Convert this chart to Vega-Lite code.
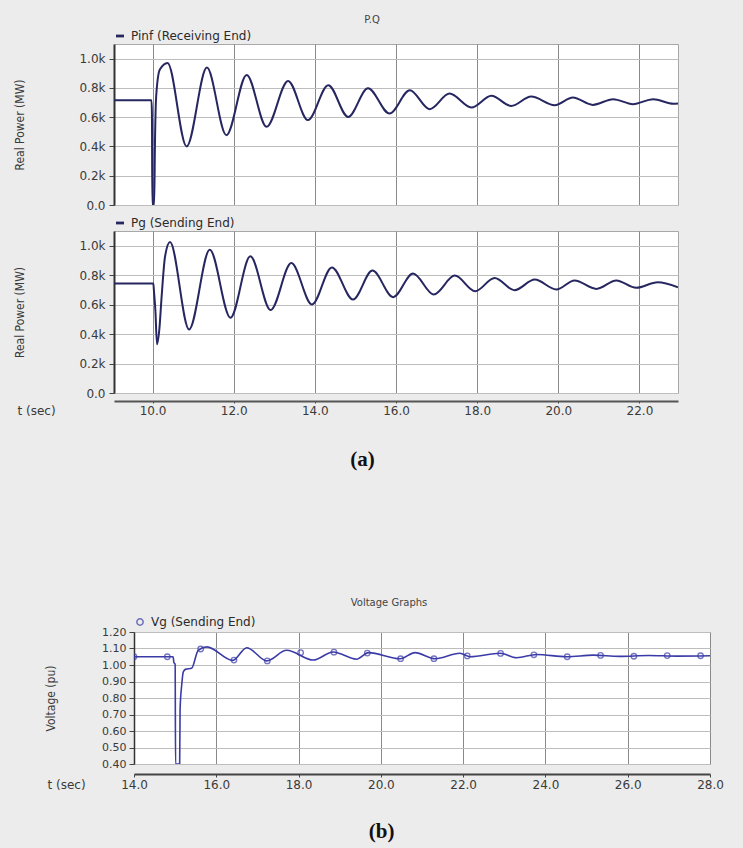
{
  "$schema": "https://vega.github.io/schema/vega-lite/v6.json",
  "autosize": {"type": "pad"},
  "padding": {"left": 12, "top": 14, "right": 20, "bottom": 10},
  "background": "#ececec",
  "bounds": "flush",
  "spacing": 588,
  "resolve": {"scale": {"color": "independent"}, "legend": {"color": "independent"}},
  "datasets": {
    "pinf": [
      {"t": 9.05, "p": 716}, {"t": 9.975, "p": 716}, {"t": 9.985, "p": 620}, {"t": 9.995, "p": 0},
      {"t": 10.04, "p": 0}, {"t": 10.06, "p": 430}, {"t": 10.09, "p": 745}, {"t": 10.18, "p": 925},
      {"t": 10.37, "p": 970}, {"t": 10.84, "p": 400}, {"t": 11.34, "p": 939}, {"t": 11.82, "p": 477},
      {"t": 12.32, "p": 889}, {"t": 12.81, "p": 534}, {"t": 13.34, "p": 848}, {"t": 13.83, "p": 580},
      {"t": 14.33, "p": 819}, {"t": 14.82, "p": 602}, {"t": 15.31, "p": 798}, {"t": 15.84, "p": 625},
      {"t": 16.34, "p": 784}, {"t": 16.83, "p": 655}, {"t": 17.32, "p": 761}, {"t": 17.86, "p": 666},
      {"t": 18.35, "p": 746}, {"t": 18.84, "p": 677}, {"t": 19.33, "p": 741}, {"t": 19.91, "p": 682},
      {"t": 20.36, "p": 734}, {"t": 20.85, "p": 684}, {"t": 21.35, "p": 723}, {"t": 21.84, "p": 689},
      {"t": 22.34, "p": 723}, {"t": 22.84, "p": 692}, {"t": 22.95, "p": 694}
    ],
    "pg": [
      {"t": 9.05, "p": 743}, {"t": 10.02, "p": 743}, {"t": 10.035, "p": 690}, {"t": 10.07, "p": 560},
      {"t": 10.11, "p": 331}, {"t": 10.17, "p": 440}, {"t": 10.22, "p": 640}, {"t": 10.31, "p": 930},
      {"t": 10.43, "p": 1025}, {"t": 10.9, "p": 432}, {"t": 11.41, "p": 973}, {"t": 11.92, "p": 511},
      {"t": 12.41, "p": 928}, {"t": 12.91, "p": 563}, {"t": 13.42, "p": 882}, {"t": 13.93, "p": 601},
      {"t": 14.42, "p": 853}, {"t": 14.94, "p": 635}, {"t": 15.42, "p": 831}, {"t": 15.93, "p": 651},
      {"t": 16.42, "p": 811}, {"t": 16.93, "p": 669}, {"t": 17.45, "p": 797}, {"t": 17.95, "p": 691},
      {"t": 18.43, "p": 781}, {"t": 18.92, "p": 698}, {"t": 19.42, "p": 770}, {"t": 19.95, "p": 703},
      {"t": 20.4, "p": 764}, {"t": 20.94, "p": 707}, {"t": 21.43, "p": 764}, {"t": 21.92, "p": 714},
      {"t": 22.45, "p": 752}, {"t": 22.95, "p": 718}
    ],
    "vg": [
      {"t": 14.0, "v": 1.05}, {"t": 14.95, "v": 1.05}, {"t": 14.97, "v": 1.015}, {"t": 15.0, "v": 1.005},
      {"t": 15.01, "v": 0.4}, {"t": 15.11, "v": 0.4}, {"t": 15.12, "v": 0.73}, {"t": 15.16, "v": 0.88},
      {"t": 15.2, "v": 0.96}, {"t": 15.26, "v": 0.975}, {"t": 15.4, "v": 0.98}, {"t": 15.56, "v": 1.089},
      {"t": 15.77, "v": 1.11}, {"t": 16.4, "v": 1.028}, {"t": 16.74, "v": 1.105}, {"t": 17.23, "v": 1.025},
      {"t": 17.71, "v": 1.089}, {"t": 18.36, "v": 1.03}, {"t": 18.84, "v": 1.079}, {"t": 19.41, "v": 1.035},
      {"t": 19.7, "v": 1.075}, {"t": 20.47, "v": 1.038}, {"t": 20.83, "v": 1.075}, {"t": 21.32, "v": 1.038},
      {"t": 21.92, "v": 1.071}, {"t": 22.17, "v": 1.05}, {"t": 22.9, "v": 1.071}, {"t": 23.3, "v": 1.044},
      {"t": 23.79, "v": 1.064}, {"t": 24.52, "v": 1.05}, {"t": 25.16, "v": 1.06}, {"t": 25.8, "v": 1.052},
      {"t": 26.5, "v": 1.058}, {"t": 27.2, "v": 1.054}, {"t": 28.0, "v": 1.056}
    ],
    "vgMarkers": [
      {"t": 14.0, "v": 1.05}, {"t": 14.81, "v": 1.05}, {"t": 15.62, "v": 1.097}, {"t": 16.43, "v": 1.03},
      {"t": 17.24, "v": 1.025}, {"t": 18.05, "v": 1.075}, {"t": 18.86, "v": 1.078}, {"t": 19.67, "v": 1.072},
      {"t": 20.48, "v": 1.038}, {"t": 21.29, "v": 1.038}, {"t": 22.1, "v": 1.055}, {"t": 22.91, "v": 1.07},
      {"t": 23.72, "v": 1.062}, {"t": 24.53, "v": 1.05}, {"t": 25.34, "v": 1.058}, {"t": 26.15, "v": 1.053},
      {"t": 26.96, "v": 1.057}, {"t": 27.77, "v": 1.056}
    ]
  },
  "vconcat": [
    {
      "bounds": "flush",
      "spacing": 26,
      "resolve": {"scale": {"color": "independent"}, "legend": {"color": "independent"}},
      "title": {"text": "(a)", "orient": "bottom", "anchor": "middle", "dx": 17, "offset": 32, "font": "Liberation Serif", "fontSize": 21, "fontWeight": "bold", "color": "#111"},
      "vconcat": [
        {
          "width": 564,
          "height": 161,
          "title": {"text": "P.Q", "anchor": "middle", "dx": -24, "offset": 5, "fontSize": 10, "fontWeight": "normal", "color": "#444"},
          "data": {"name": "pinf"},
          "mark": {"type": "line", "interpolate": "monotone", "strokeWidth": 2, "clip": true},
          "encoding": {
            "x": {"field": "t", "type": "quantitative", "scale": {"domain": [9.05, 22.95], "nice": false, "zero": false},
                  "axis": {"values": [10, 12, 14, 16, 18, 20, 22], "labels": false, "ticks": false, "domain": false, "title": null, "grid": true, "gridColor": "#8a8a8a"}},
            "y": {"field": "p", "type": "quantitative", "scale": {"domain": [0, 1100], "nice": false},
                  "axis": {"values": [0, 200, 400, 600, 800, 1000], "labelExpr": "datum.value == 0 ? '0.0' : format(datum.value / 1000, '.1f') + 'k'",
                           "title": "Real Power (MW)", "titleX": -88, "tickSize": 5, "labelPadding": 4, "domainWidth": 2, "grid": true, "gridColor": "#bdbdbd"}},
            "color": {"datum": "Pinf (Receiving End)", "type": "nominal", "scale": {"range": ["#262660"]},
                      "legend": {"orient": "top", "offset": 2, "symbolType": "M-1,-0.35L1,-0.35L1,0.35L-1,0.35Z", "symbolSize": 64, "symbolFillColor": "#262660", "symbolStrokeWidth": 0}}
          }
        },
        {
          "width": 564,
          "height": 162,
          "data": {"name": "pg"},
          "mark": {"type": "line", "interpolate": "monotone", "strokeWidth": 2, "clip": true},
          "encoding": {
            "x": {"field": "t", "type": "quantitative", "scale": {"domain": [9.05, 22.95], "nice": false, "zero": false},
                  "axis": {"values": [10, 12, 14, 16, 18, 20, 22], "format": ".1f", "offset": 8, "domainWidth": 2, "domainColor": "#555", "tickSize": 2, "labelPadding": 2,
                           "title": "t (sec)", "titleX": -97, "titleY": 9, "titleAlign": "left", "titleBaseline": "middle", "titleFont": "DejaVu Sans", "titleFontSize": 12,
                           "grid": true, "gridColor": "#8a8a8a"}},
            "y": {"field": "p", "type": "quantitative", "scale": {"domain": [0, 1100], "nice": false},
                  "axis": {"values": [0, 200, 400, 600, 800, 1000], "labelExpr": "datum.value == 0 ? '0.0' : format(datum.value / 1000, '.1f') + 'k'",
                           "title": "Real Power (MW)", "titleX": -88, "tickSize": 5, "labelPadding": 4, "domainWidth": 2, "grid": true, "gridColor": "#bdbdbd"}},
            "color": {"datum": "Pg (Sending End)", "type": "nominal", "scale": {"range": ["#262660"]},
                      "legend": {"orient": "top", "offset": 2, "symbolType": "M-1,-0.35L1,-0.35L1,0.35L-1,0.35Z", "symbolSize": 64, "symbolFillColor": "#262660", "symbolStrokeWidth": 0}}
          }
        }
      ]
    },
    {
      "bounds": "flush",
      "spacing": 19,
      "resolve": {"scale": {"color": "independent"}, "legend": {"color": "independent"}},
      "title": {"text": "(b)", "orient": "bottom", "anchor": "middle", "dx": -2, "offset": 30, "font": "Liberation Serif", "fontSize": 21, "fontWeight": "bold", "color": "#111"},
      "hconcat": [
        {
          "width": 1,
          "height": 132,
          "view": {"stroke": null, "fill": null},
          "data": {"values": [{}]},
          "mark": {"type": "rule", "opacity": 0},
          "encoding": {}
        },
        {
          "width": 576,
          "height": 132,
          "title": {"text": "Voltage Graphs", "anchor": "middle", "dx": -33, "offset": 8, "fontSize": 10, "fontWeight": "normal", "color": "#444"},
          "encoding": {
            "x": {"field": "t", "type": "quantitative", "scale": {"domain": [14, 28], "nice": false, "zero": false},
                  "axis": {"values": [14, 16, 18, 20, 22, 24, 26, 28], "format": ".1f", "offset": 10, "domainWidth": 2, "domainColor": "#444", "tickSize": 3, "labelPadding": 2,
                           "title": "t (sec)", "titleX": -87, "titleY": 10, "titleAlign": "left", "titleBaseline": "middle", "titleFont": "DejaVu Sans", "titleFontSize": 12,
                           "grid": true, "gridColor": "#8a8a8a"}},
            "y": {"field": "v", "type": "quantitative", "scale": {"domain": [0.4, 1.2], "nice": false, "zero": false},
                  "axis": {"values": [0.4, 0.5, 0.6, 0.7, 0.8, 0.9, 1.0, 1.1, 1.2], "format": ".2f", "labelOverlap": false, "labelFontSize": 11,
                           "title": "Voltage (pu)", "titleX": -77, "tickSize": 5, "labelPadding": 3, "domainWidth": 1.5, "grid": true, "gridColor": "#bdbdbd"}},
            "color": {"datum": "Vg (Sending End)", "type": "nominal", "scale": {"range": ["#3b3ba8"]},
                      "legend": {"orient": "top", "offset": 3, "symbolType": "circle", "symbolSize": 40, "symbolFillColor": "white", "symbolStrokeColor": "#3b3ba8", "symbolStrokeWidth": 1.5}}
          },
          "layer": [
            {
              "data": {"name": "vg"},
              "mark": {"type": "line", "interpolate": "monotone", "strokeWidth": 1.6, "clip": true}
            },
            {
              "data": {"name": "vgMarkers"},
              "mark": {"type": "point", "shape": "circle", "filled": false, "size": 30, "strokeWidth": 1.3, "clip": true}
            }
          ]
        }
      ]
    }
  ],
  "config": {
    "font": "DejaVu Sans",
    "view": {"stroke": "#a8a8a8", "fill": "white"},
    "axis": {"labelFont": "DejaVu Sans", "labelFontSize": 12, "labelColor": "#3a3a3a", "labelFlush": false, "titleFont": "DejaVu Sans Condensed, Liberation Sans, sans-serif", "titleFontSize": 12,
             "titleFontWeight": "normal", "titleColor": "#3a3a3a", "tickColor": "#444", "domainColor": "#333"},
    "legend": {"title": null, "padding": 0, "labelFont": "DejaVu Sans", "labelFontSize": 12, "labelColor": "#2a2a2a", "labelOffset": 5},
    "title": {"font": "DejaVu Sans"}
  }
}
